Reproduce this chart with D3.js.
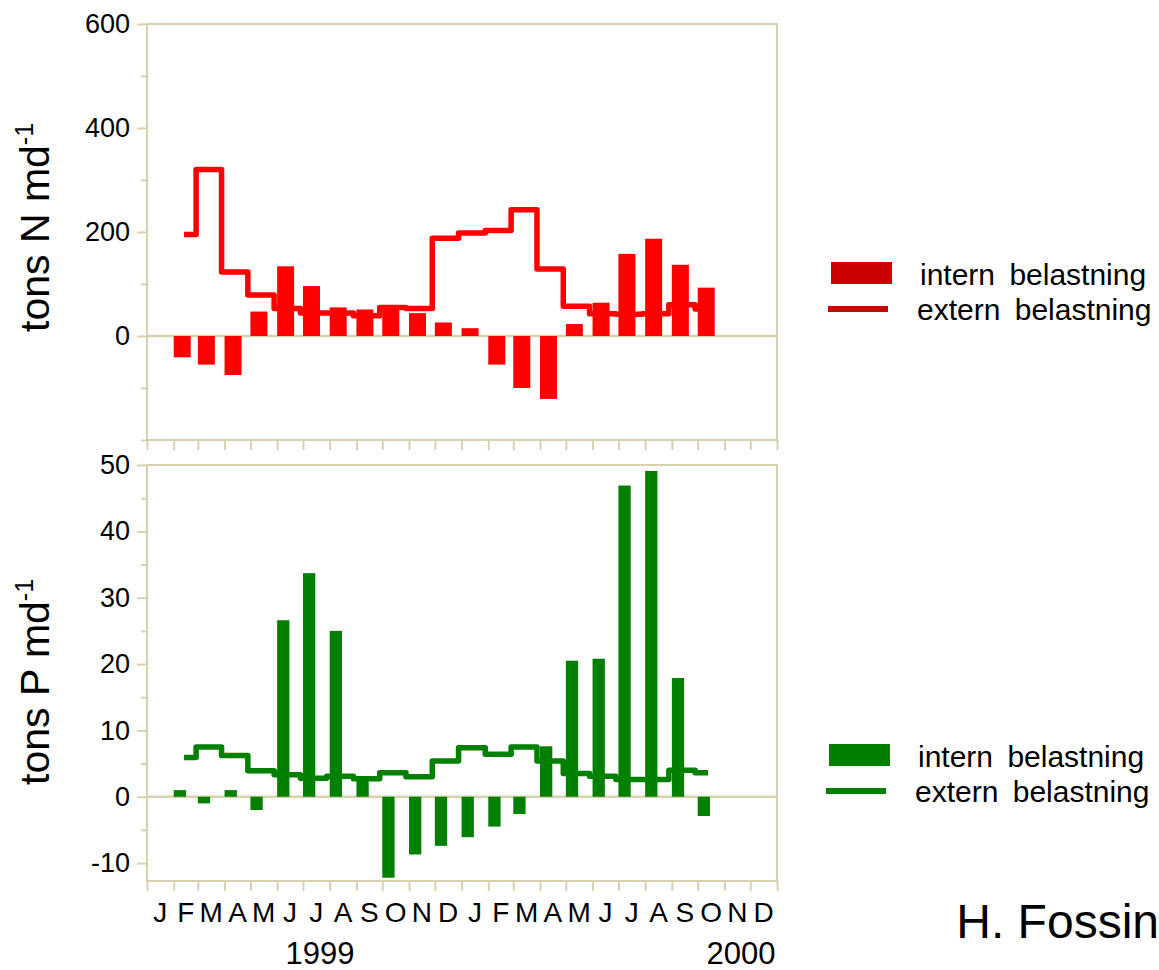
<!DOCTYPE html>
<html>
<head>
<meta charset="utf-8">
<script src="https://cdn.jsdelivr.net/npm/d3@7"></script>
<style>
  html, body { margin: 0; padding: 0; background: #fff; }
  svg { display: block; font-family: Arial, "Liberation Sans", Helvetica, sans-serif; }
</style>
</head>
<body>
<svg id="chart" width="1159" height="970"></svg>
<script>
// Monthly sampling dates (start of each sampled month)
const sampleDates = [
  "1999-02-01","1999-03-01","1999-04-01","1999-05-01","1999-06-01","1999-07-01",
  "1999-08-01","1999-09-01","1999-10-01","1999-11-01","1999-12-01",
  "2000-01-01","2000-02-01","2000-03-01","2000-04-01","2000-05-01","2000-06-01",
  "2000-07-01","2000-08-01","2000-09-01","2000-10-01"
];

// Nitrogen (tons N per month)
const nIntern = [-41, -55, -75, 47, 134, 96, 55, 51, 56, 44, 26, 15,
                 -55, -100, -121, 23, 64, 158, 187, 137, 93];
const nExtern = [195, 320, 123, 79, 53, 44, 44, 39, 55, 53, 188, 198,
                 203, 243, 129, 57, 43, 42, 43, 60, 52];

// Phosphorus (tons P per month)
const pIntern = [1.0, -1.0, 1.0, -2.0, 26.6, 33.7, 25.0, 2.4, -12.2, -8.7, -7.4, -6.1,
                 -4.5, -2.6, 7.6, 20.5, 20.8, 46.9, 49.1, 17.9, -2.9];
const pExtern = [5.9, 7.5, 6.2, 3.9, 3.3, 2.8, 3.1, 2.7, 3.6, 3.0, 5.4, 7.4,
                 6.4, 7.5, 5.4, 3.5, 3.1, 2.6, 2.6, 4.0, 3.6];

const monthLetters = ["J","F","M","A","M","J","J","A","S","O","N","D"];
const yearLabels = ["1999", "2000"];
const nTicks = [0, 200, 400, 600];
const pTicks = [-10, 0, 10, 20, 30, 40, 50];
const legendLabels = ["intern belastning", "extern belastning"];
const signature = "H. Fossin";

const svg = d3.select("#chart");
const frameColor = "#d6d2ae";
const parse = d3.timeParse("%Y-%m-%d");
const dates = sampleDates.map(parse);

const x = d3.scaleTime()
  .domain([new Date(1999, 0, 1), new Date(2001, 0, 1)])
  .range([147, 777]);

// plain hyphen for negative tick labels
const fmt = d => String(d);

function panel(cfg) {
  const y = d3.scaleLinear().domain(cfg.domain).range([cfg.bottom, cfg.top]);
  const g = svg.append("g");

  // frame
  g.append("rect")
    .attr("x", x.range()[0]).attr("y", cfg.top)
    .attr("width", x.range()[1] - x.range()[0]).attr("height", cfg.bottom - cfg.top)
    .attr("fill", "none").attr("stroke", frameColor).attr("stroke-width", 2);

  // y axis: major ticks with labels, minor ticks in between
  const yAxis = d3.axisLeft(y).tickValues(cfg.ticks).tickSize(10).tickPadding(7)
    .tickFormat(fmt);
  const ya = g.append("g").attr("transform", `translate(${x.range()[0]},0)`).call(yAxis);
  ya.select(".domain").remove();
  ya.selectAll(".tick line").attr("stroke", frameColor).attr("stroke-width", 2);
  ya.selectAll(".tick text").attr("font-size", 27).attr("fill", "#000");

  const yMinor = d3.axisLeft(y).tickValues(cfg.minor).tickSize(6).tickFormat("");
  const ym = g.append("g").attr("transform", `translate(${x.range()[0]},0)`).call(yMinor);
  ym.select(".domain").remove();
  ym.selectAll(".tick line").attr("stroke", frameColor).attr("stroke-width", 2);

  // x axis ticks at every month boundary
  const xAxis = d3.axisBottom(x).ticks(d3.timeMonth.every(1)).tickSize(10).tickFormat("");
  const xa = g.append("g").attr("transform", `translate(0,${cfg.bottom})`).call(xAxis);
  xa.select(".domain").remove();
  xa.selectAll(".tick line").attr("stroke", frameColor).attr("stroke-width", 2);

  // zero line
  g.append("line")
    .attr("x1", x.range()[0]).attr("x2", x.range()[1])
    .attr("y1", y(0)).attr("y2", y(0))
    .attr("stroke", frameColor).attr("stroke-width", 2.5);

  // internal load bars, anchored at the start of each month
  g.append("g").selectAll("rect")
    .data(cfg.bars)
    .join("rect")
    .attr("x", (d, i) => x(dates[i]))
    .attr("width", cfg.barWidth)
    .attr("y", d => y(Math.max(0, d)))
    .attr("height", d => Math.abs(y(d) - y(0)))
    .attr("fill", cfg.color);

  // external load as a monthly step line
  const line = d3.line()
    .x((d, i) => x(d3.timeDay.offset(dates[i], 12)))
    .y(d => y(d))
    .curve(d3.curveStep);
  g.append("path")
    .datum(cfg.line)
    .attr("d", line)
    .attr("fill", "none")
    .attr("stroke", cfg.color)
    .attr("stroke-width", 5.5)
    .attr("stroke-linejoin", "round");

  // y axis title with superscript, reading upwards
  const t = svg.append("text")
    .attr("transform", `translate(${cfg.titleX},${cfg.titleY}) rotate(-90)`)
    .attr("text-anchor", "start")
    .attr("font-size", 41)
    .attr("fill", "#000");
  t.append("tspan").text(cfg.title);
  t.append("tspan").attr("dy", -16).attr("font-size", 25).text("-1");

  // legend
  const lg = svg.append("g").attr("transform", `translate(${cfg.legendX},${cfg.legendY})`);
  lg.append("rect").attr("x", 0).attr("y", 0).attr("width", 61).attr("height", 22)
    .attr("fill", cfg.legendColor);
  lg.append("rect").attr("x", -3).attr("y", 44).attr("width", 60).attr("height", 6)
    .attr("fill", cfg.legendColor);
  lg.selectAll("text.lbl")
    .data(legendLabels)
    .join("text")
    .attr("class", "lbl")
    .attr("x", (d, i) => i === 0 ? 89 : 86)
    .attr("y", (d, i) => i === 0 ? 23 : 58)
    .attr("font-size", 30)
    .attr("word-spacing", 6)
    .attr("fill", "#000")
    .text(d => d);

  return y;
}

panel({
  top: 24, bottom: 440, domain: [-200, 600],
  ticks: nTicks, minor: [-200, -100, 100, 300, 500],
  bars: nIntern, line: nExtern, color: "#ff0000", legendColor: "#cc0000",
  barWidth: 17, title: "tons N md", titleX: 49, titleY: 332,
  legendX: 831, legendY: 262
});

panel({
  top: 465, bottom: 881, domain: [-12.7, 50],
  ticks: pTicks, minor: [-5, 5, 15, 25, 35, 45],
  bars: pIntern, line: pExtern, color: "#008000", legendColor: "#008000",
  barWidth: 12.3, title: "tons P md", titleX: 49, titleY: 785,
  legendX: 829, legendY: 744
});

// month letters under the lower panel
const monthStarts = d3.timeMonth.range(new Date(1999, 0, 1), new Date(2001, 0, 1));
svg.append("g").selectAll("text")
  .data(monthStarts)
  .join("text")
  .attr("x", d => (x(d) + x(d3.timeMonth.offset(d, 1))) / 2)
  .attr("y", 922)
  .attr("text-anchor", "middle")
  .attr("font-size", 28)
  .attr("fill", "#000")
  .text(d => monthLetters[d.getMonth()]);

// year labels
svg.append("g").selectAll("text")
  .data(yearLabels)
  .join("text")
  .attr("x", (d, i) => i === 0 ? 320 : 741)
  .attr("y", 964)
  .attr("text-anchor", "middle")
  .attr("font-size", 31)
  .attr("fill", "#000")
  .text(d => d);

// author
svg.append("text")
  .attr("x", 1159).attr("y", 938)
  .attr("text-anchor", "end")
  .attr("font-size", 48)
  .attr("fill", "#000")
  .text(signature);
</script>
</body>
</html>
